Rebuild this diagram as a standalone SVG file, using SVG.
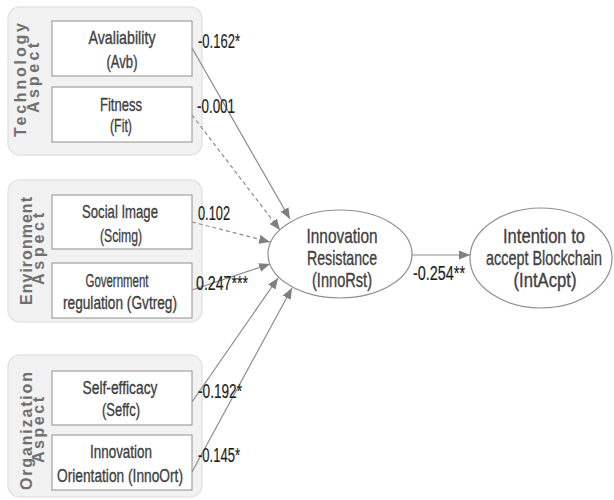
<svg xmlns="http://www.w3.org/2000/svg" width="614" height="500" viewBox="0 0 614 500">
<style>
.grp{fill:#f2f2f2;stroke:#e3e3e3;stroke-width:1.5}
.box{fill:#fff;stroke:#8f8f8f;stroke-width:1}
.ell{fill:#fff;stroke:#8f8f8f;stroke-width:1.2}
.t{font-family:"Liberation Sans",Arial,sans-serif;font-size:19px;fill:#404040;stroke:#404040;stroke-width:0.35;text-anchor:middle}
.et{font-family:"Liberation Sans",Arial,sans-serif;font-size:21px;fill:#404040;stroke:#404040;stroke-width:0.35;text-anchor:middle}
.asp{font-family:"Liberation Sans",Arial,sans-serif;font-weight:bold;font-size:16px;fill:#707070;text-anchor:middle}
.lbl{font-family:"Liberation Sans",Arial,sans-serif;font-size:20px;fill:#1e1e1e;stroke:#1e1e1e;stroke-width:0.2}
.c{stroke:#8c8c8c;stroke-width:1.2;fill:none;marker-end:url(#ah)}
.d{stroke-dasharray:4 3}
</style>
<defs>
<marker id="ah" markerWidth="11" markerHeight="9" refX="11" refY="4.5" orient="auto" markerUnits="userSpaceOnUse">
<path d="M0,0 L11,4.5 L0,9 z" fill="#7f7f7f"/>
</marker>
</defs>

<g id="technology-aspect">
<rect class="grp" x="8" y="7" width="194" height="148" rx="12"/>
<text class="asp" transform="translate(26,80) rotate(-90)" textLength="114" lengthAdjust="spacing">Technology</text>
<text class="asp" transform="translate(39,78) rotate(-90)" textLength="70" lengthAdjust="spacing">Aspect</text>
</g>
<g id="avb">
<rect class="box" x="52" y="21" width="140" height="55"/>
<text class="t" x="122" y="44" textLength="67" lengthAdjust="spacingAndGlyphs">Avaliability</text>
<text class="t" x="122" y="68" textLength="31" lengthAdjust="spacingAndGlyphs">(Avb)</text>
</g>
<g id="fit">
<rect class="box" x="52" y="87" width="140" height="55"/>
<text class="t" x="121" y="111" textLength="42" lengthAdjust="spacingAndGlyphs">Fitness</text>
<text class="t" x="121" y="132" textLength="22" lengthAdjust="spacingAndGlyphs">(Fit)</text>
</g>

<g id="environment-aspect">
<rect class="grp" x="8" y="180" width="194" height="142" rx="12"/>
<text class="asp" transform="translate(32,251) rotate(-90)" textLength="108" lengthAdjust="spacing">Environment</text>
<text class="asp" transform="translate(44,249) rotate(-90)" textLength="72" lengthAdjust="spacing">Aspect</text>
</g>
<g id="scimg">
<rect class="box" x="52" y="195" width="140" height="54"/>
<text class="t" x="120" y="218" textLength="76" lengthAdjust="spacingAndGlyphs">Social Image</text>
<text class="t" x="121" y="242" textLength="42" lengthAdjust="spacingAndGlyphs">(Scimg)</text>
</g>
<g id="gvtreg">
<rect class="box" x="52" y="263" width="140" height="55"/>
<text class="t" x="117" y="287" textLength="63" lengthAdjust="spacingAndGlyphs">Government</text>
<text class="t" x="120" y="309" textLength="114" lengthAdjust="spacingAndGlyphs">regulation (Gvtreg)</text>
</g>

<g id="organization-aspect">
<rect class="grp" x="8" y="355" width="194" height="142" rx="12"/>
<text class="asp" transform="translate(32,431) rotate(-90)" textLength="118" lengthAdjust="spacing">Organization</text>
<text class="asp" transform="translate(44,430) rotate(-90)" textLength="66" lengthAdjust="spacing">Aspect</text>
</g>
<g id="seffc">
<rect class="box" x="52" y="371" width="140" height="54"/>
<text class="t" x="120" y="394" textLength="75" lengthAdjust="spacingAndGlyphs">Self-efficacy</text>
<text class="t" x="121" y="416" textLength="38" lengthAdjust="spacingAndGlyphs">(Seffc)</text>
</g>
<g id="innoort">
<rect class="box" x="52" y="435" width="140" height="55"/>
<text class="t" x="121" y="458" textLength="62" lengthAdjust="spacingAndGlyphs">Innovation</text>
<text class="t" x="120" y="482" textLength="126" lengthAdjust="spacingAndGlyphs">Orientation (InnoOrt)</text>
</g>

<g id="innorst">
<ellipse class="ell" cx="340" cy="254" rx="72" ry="44"/>
<text class="et" x="342" y="243" textLength="71" lengthAdjust="spacingAndGlyphs">Innovation</text>
<text class="et" x="342" y="265" textLength="70" lengthAdjust="spacingAndGlyphs">Resistance</text>
<text class="et" x="342" y="287" textLength="60" lengthAdjust="spacingAndGlyphs">(InnoRst)</text>
</g>
<g id="intacpt">
<ellipse class="ell" cx="541" cy="258" rx="71" ry="50"/>
<text class="et" x="544" y="243" textLength="82" lengthAdjust="spacingAndGlyphs">Intention to</text>
<text class="et" x="544" y="265" textLength="116" lengthAdjust="spacingAndGlyphs">accept Blockchain</text>
<text class="et" x="545" y="287" textLength="63" lengthAdjust="spacingAndGlyphs">(IntAcpt)</text>
</g>

<g id="connectors">
<line class="c" x1="192" y1="48" x2="290" y2="219"/>
<line class="c d" x1="192" y1="115" x2="280" y2="230"/>
<line class="c d" x1="192" y1="222" x2="270" y2="242"/>
<line class="c" x1="192" y1="290" x2="270" y2="264"/>
<line class="c" x1="192" y1="402" x2="278" y2="278"/>
<line class="c" x1="192" y1="472" x2="292" y2="288"/>
<line class="c" x1="412" y1="255" x2="470" y2="255"/>
<text class="lbl" x="198" y="48" textLength="42" lengthAdjust="spacingAndGlyphs">-0.162*</text>
<text class="lbl" x="197" y="113" textLength="38" lengthAdjust="spacingAndGlyphs">-0.001</text>
<text class="lbl" x="198" y="220" textLength="32" lengthAdjust="spacingAndGlyphs">0.102</text>
<text class="lbl" x="196" y="290" textLength="52" lengthAdjust="spacingAndGlyphs">0.247***</text>
<text class="lbl" x="198" y="398" textLength="44" lengthAdjust="spacingAndGlyphs">-0.192*</text>
<text class="lbl" x="198" y="462" textLength="42" lengthAdjust="spacingAndGlyphs">-0.145*</text>
<text class="lbl" x="413" y="280" textLength="52" lengthAdjust="spacingAndGlyphs">-0.254**</text>
</g>
</svg>
